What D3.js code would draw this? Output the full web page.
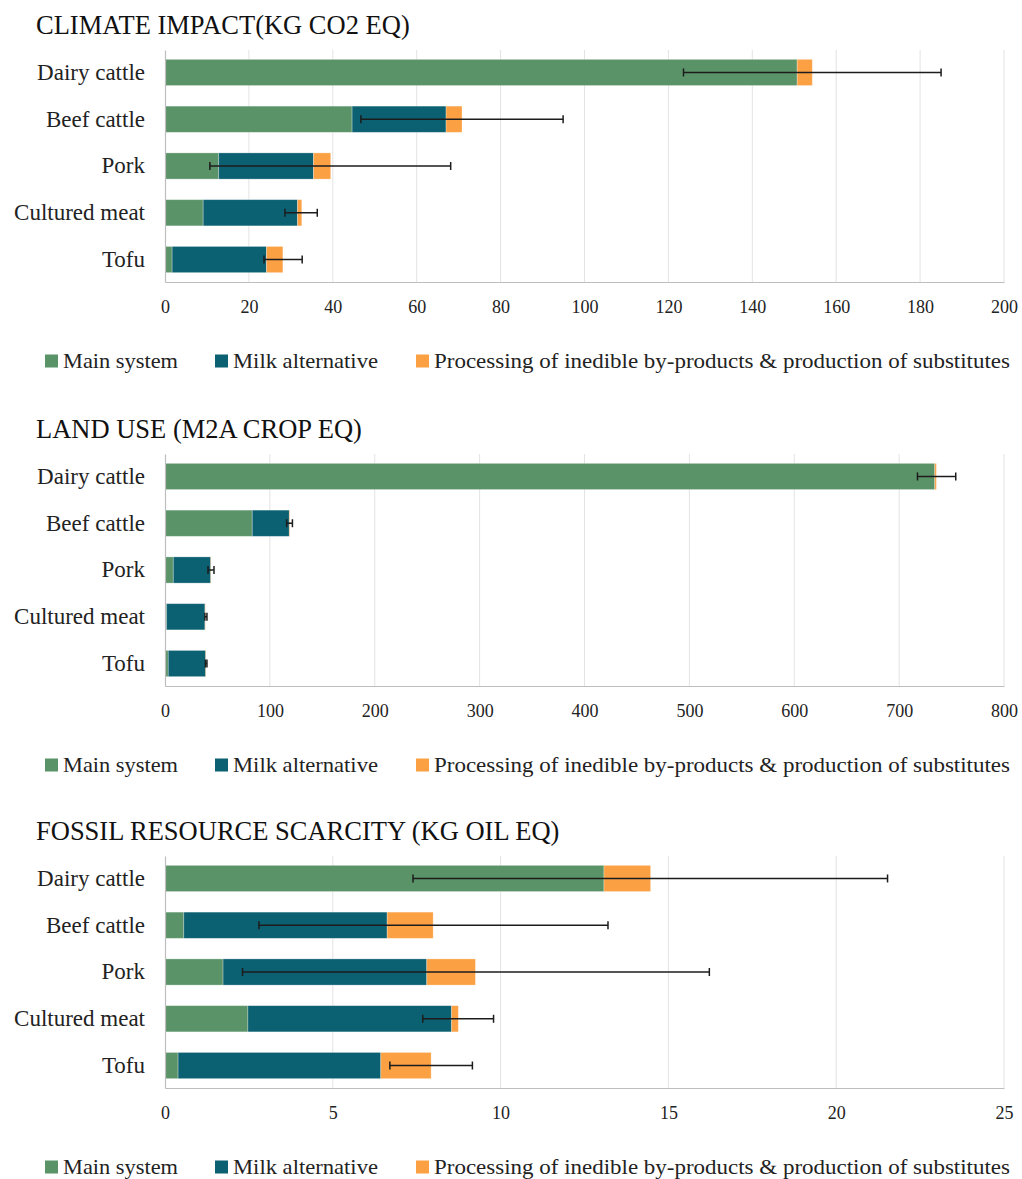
<!DOCTYPE html>
<html><head><meta charset="utf-8">
<script src="https://cdn.jsdelivr.net/npm/d3@7"></script>
<style>body{margin:0;background:#fff;} svg{display:block;}</style>
</head><body>
<script>
const categories = ["Dairy cattle","Beef cattle","Pork","Cultured meat","Tofu"];
const seriesNames = ["Main system","Milk alternative","Processing of inedible by-products & production of substitutes"];
const seriesColors = ["#5b9368","#0b6071","#fba043"];

const climateTitle = "CLIMATE IMPACT(KG CO2 EQ)";
const climateMain = [150.7, 44.6, 12.8, 9.1, 1.7];
const climateMilk = [0, 22.4, 22.6, 22.5, 22.5];
const climateProc = [3.6, 3.8, 4.1, 1.0, 3.9];
const climateErrLow = [123.6, 46.7, 10.7, 28.6, 23.6];
const climateErrHigh = [185.0, 94.9, 68.1, 36.3, 32.7];
const climateTicks = [0,20,40,60,80,100,120,140,160,180,200];

const landTitle = "LAND USE (M2A CROP EQ)";
const landMain = [734.0, 83.2, 7.9, 1.6, 3.1];
const landMilk = [0, 35.3, 35.7, 36.5, 35.7];
const landProc = [1.5, 0.5, 0.3, 0.3, 0.3];
const landErrLow = [717.5, 116.0, 41.0, 38.0, 38.5];
const landErrHigh = [754.0, 121.5, 46.7, 40.0, 40.0];
const landTicks = [0,100,200,300,400,500,600,700,800];

const fossilTitle = "FOSSIL RESOURCE SCARCITY (KG OIL EQ)";
const fossilMain = [13.08, 0.56, 1.73, 2.47, 0.39];
const fossilMilk = [0, 6.06, 6.07, 6.07, 6.04];
const fossilProc = [1.39, 1.37, 1.45, 0.20, 1.50];
const fossilErrLow = [7.39, 2.80, 2.31, 7.68, 6.70];
const fossilErrHigh = [21.53, 13.20, 16.22, 9.79, 9.16];
const fossilTicks = [0,5,10,15,20,25];

const panels = [
  {title: climateTitle, main: climateMain, milk: climateMilk, proc: climateProc, lo: climateErrLow, hi: climateErrHigh, ticks: climateTicks, off: 0},
  {title: landTitle, main: landMain, milk: landMilk, proc: landProc, lo: landErrLow, hi: landErrHigh, ticks: landTicks, off: 404},
  {title: fossilTitle, main: fossilMain, milk: fossilMilk, proc: fossilProc, lo: fossilErrLow, hi: fossilErrHigh, ticks: fossilTicks, off: 806}
];

const W = 1022, H = 1179;
const FONT = "'Liberation Serif', 'DejaVu Serif', serif";
const svg = d3.select("body").append("svg").attr("width", W).attr("height", H)
  .style("font-family", FONT);

const X0 = 165, X1 = 1004;

panels.forEach(p => {
  const g = svg.append("g").attr("transform", `translate(0,${p.off})`);
  const top = 50, bottom = 282;
  const x = d3.scaleLinear().domain([p.ticks[0], p.ticks[p.ticks.length-1]]).range([X0, X1]);
  const y = d3.scaleBand().domain(categories).range([top, bottom]).paddingInner(0.44).paddingOuter(0.2);

  g.append("text").attr("x", 36).attr("y", 34).attr("font-size", 26.5).attr("fill", "#111")
    .attr("font-family", FONT).text(p.title);

  // gridlines
  g.append("g").selectAll("line").data(p.ticks.slice(1)).join("line")
    .attr("x1", d => x(d)).attr("x2", d => x(d)).attr("y1", top).attr("y2", bottom)
    .attr("stroke", "#e3e3e3").attr("stroke-width", 1);

  // stacked data
  const rows = categories.map((c, i) => ({cat: c, main: p.main[i], milk: p.milk[i], proc: p.proc[i]}));
  const stack = d3.stack().keys(["main","milk","proc"])(rows);
  stack.forEach((layer, li) => {
    g.append("g").selectAll("rect").data(layer).join("rect")
      .attr("x", d => x(d[0])).attr("width", d => Math.max(0, x(d[1]) - x(d[0])))
      .attr("y", d => y(d.data.cat)).attr("height", y.bandwidth())
      .attr("fill", seriesColors[li])
      .attr("stroke", "rgba(255,255,255,0.35)").attr("stroke-width", 0.8);
  });

  // axes
  const xAxis = d3.axisBottom(x).tickValues(p.ticks).tickSize(0).tickPadding(18);
  const ax = g.append("g").attr("transform", `translate(0,${bottom})`).call(xAxis)
    .attr("font-family", FONT);
  ax.select(".domain").attr("stroke", "#bdbdbd").attr("stroke-width", 1.2);
  ax.selectAll("text").attr("font-size", 18).attr("font-family", FONT).attr("fill", "#222");

  const yAxis = d3.axisLeft(y).tickSize(0).tickPadding(20);
  const ay = g.append("g").attr("transform", `translate(${X0},0)`).call(yAxis)
    .attr("font-family", FONT);
  ay.select(".domain").attr("stroke", "#bdbdbd").attr("stroke-width", 1.2);
  ay.selectAll("text").attr("font-size", 23).attr("font-family", FONT).attr("fill", "#222");

  // error bars
  const eb = g.append("g").attr("stroke", "#1c1c1c").attr("stroke-width", 1.5);
  categories.forEach((c, i) => {
    const cy = y(c) + y.bandwidth()/2;
    eb.append("line").attr("x1", x(p.lo[i])).attr("x2", x(p.hi[i])).attr("y1", cy).attr("y2", cy);
    eb.append("line").attr("x1", x(p.lo[i])).attr("x2", x(p.lo[i])).attr("y1", cy-4).attr("y2", cy+4);
    eb.append("line").attr("x1", x(p.hi[i])).attr("x2", x(p.hi[i])).attr("y1", cy-4).attr("y2", cy+4);
  });

  // legend
  const legX = [45, 215, 416];
  const legW = [115, 145, 576];
  const lg = g.append("g").attr("transform", "translate(0,361)");
  seriesNames.forEach((s, i) => {
    lg.append("rect").attr("x", legX[i]).attr("y", -6.5).attr("width", 13).attr("height", 13).attr("fill", seriesColors[i]);
    lg.append("text").attr("x", legX[i] + 18).attr("y", 7).attr("font-size", 21).attr("fill", "#222")
      .attr("font-family", FONT)
      .attr("textLength", legW[i]).attr("lengthAdjust", "spacingAndGlyphs").text(s);
  });
});
</script>
</body></html>
